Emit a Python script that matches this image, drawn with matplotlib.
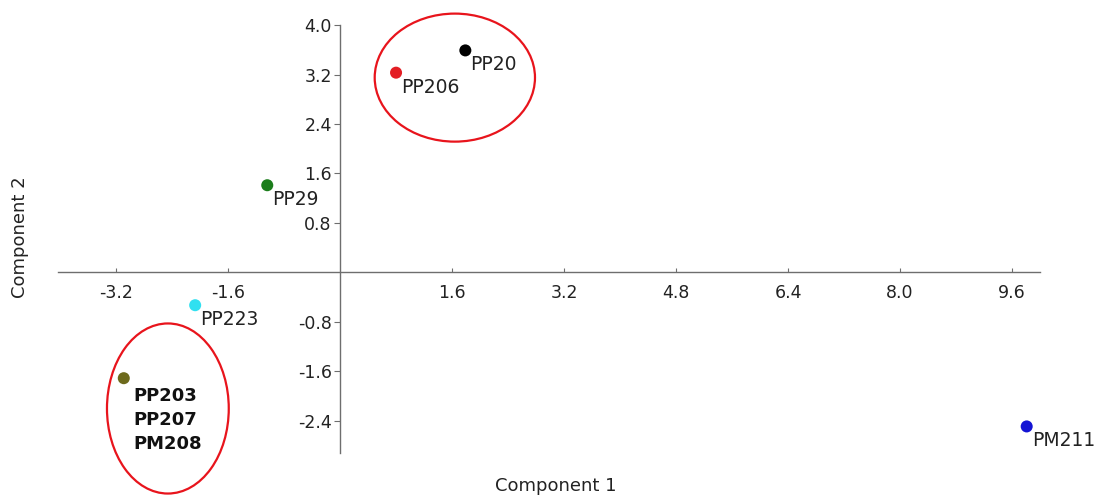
import matplotlib.pyplot as plt
from matplotlib.patches import Ellipse

# PCA scores
samples = ['PP20', 'PP206', 'PP29', 'PP223', 'PP203\nPP207\nPM208', 'PM211']
comp1 = [1.79, 0.80, -1.04, -2.07, -3.09, 9.81]
comp2 = [3.59, 3.23, 1.41, -0.53, -1.71, -2.49]

x_ticks = [-3.2, -1.6, 1.6, 3.2, 4.8, 6.4, 8.0, 9.6]
y_ticks = [-2.4, -1.6, -0.8, 0.8, 1.6, 2.4, 3.2, 4.0]

colors = ['black', '#e31e24', '#1b7d1b', '#30e0f0', '#6d6a1c', '#1414d4']

fig = plt.figure(figsize=(10.96, 4.95), dpi=100)
ax = fig.add_axes([0.0529, 0.0848, 0.896, 0.8646])

ax.scatter(comp1, comp2, s=75, c=colors, zorder=3, edgecolors='none')

for name, xv, yv in zip(samples, comp1, comp2):
    grouped = '\n' in name
    ax.annotate(name, (xv, yv),
                xytext=(7, -6) if grouped else (3.6, -3.6),
                textcoords='offset points', ha='left', va='top',
                fontsize=13 if grouped else 13.5,
                fontweight='bold' if grouped else 'normal',
                linespacing=1.45 if grouped else 1.2,
                color='#111111' if grouped else '#222222')

# red circles marking the groups
ax.add_patch(Ellipse((1.64, 3.15), 2.29, 2.07, fill=False, ec='#e8141c',
                     lw=1.6, clip_on=False, zorder=4))
ax.add_patch(Ellipse((-2.46, -2.2), 1.74, 2.75, fill=False, ec='#e8141c',
                     lw=1.6, clip_on=False, zorder=4))

ax.set_xlim(-4.03, 10.0)
ax.set_ylim(-2.92, 4.0)

for side in ['top', 'right']:
    ax.spines[side].set_visible(False)
ax.spines['left'].set_position(('data', 0))
ax.spines['bottom'].set_position(('data', 0))
for side in ['left', 'bottom']:
    ax.spines[side].set_color('#6e6e6e')
    ax.spines[side].set_linewidth(1.0)

ax.set_xticks(x_ticks)
ax.set_yticks(y_ticks)
ax.set_xticklabels([f'{v:.1f}' for v in x_ticks])
ax.set_yticklabels([f'{v:.1f}' for v in y_ticks])
ax.tick_params(axis='x', direction='in', length=3, color='#6e6e6e',
               labelsize=12.5, labelcolor='#222222', pad=8)
ax.tick_params(axis='y', direction='out', length=4, color='#6e6e6e',
               labelsize=12.5, labelcolor='#222222', pad=2)

fig.text(0.507, 0.018, 'Component 1', ha='center', va='center',
         fontsize=13, color='#222222')
fig.text(0.018, 0.521, 'Component 2', ha='center', va='center',
         rotation=90, fontsize=13, color='#222222')

fig.savefig('out.png', dpi=100)
